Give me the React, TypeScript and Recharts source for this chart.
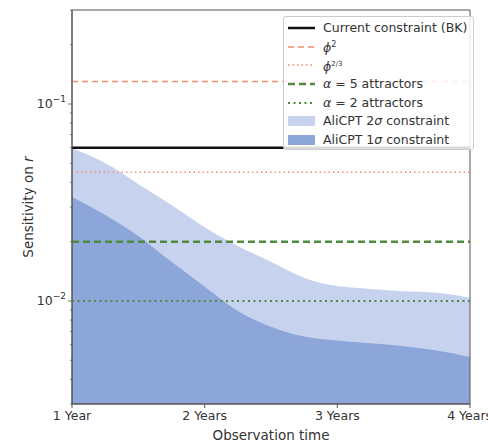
import { Area, ComposedChart, Label, ReferenceArea, ReferenceLine, XAxis, YAxis } from "recharts";

// observation time in years
const years = [1, 1.25, 1.5, 1.75, 2, 2.25, 2.5, 2.75, 3, 3.25, 3.5, 3.75, 4];
// AliCPT upper limits on r
const sigma2 = [0.0598, 0.0502, 0.0393, 0.0307, 0.0237, 0.019, 0.0158, 0.0131, 0.0119, 0.0115, 0.0112, 0.011, 0.0104];
const sigma1 = [0.0337, 0.0273, 0.0214, 0.0158, 0.0118, 0.0089, 0.0074, 0.0066, 0.0063, 0.0061, 0.0059, 0.0056, 0.0052];

const bkLimit = 0.06;
const phi2 = 0.13;
const phi23 = 0.045;
const alpha5 = 0.02;
const alpha2 = 0.01;

const xTicks = [1, 2, 3, 4];
const xTickLabels = ["1 Year", "2 Years", "3 Years", "4 Years"];
const majorTicks = [0.01, 0.1];
const majorExp = ["−2", "−1"];
const yTicks = [
  0.003, 0.004, 0.005, 0.006, 0.007, 0.008, 0.009, 0.01,
  0.02, 0.03, 0.04, 0.05, 0.06, 0.07, 0.08, 0.09, 0.1, 0.2, 0.3,
];

const data = years.map((t, i) => ({ t, s2: sigma2[i], s1: sigma1[i] }));

const FONT = "DejaVu Sans";
const TEXT = "#333";
const AXIS = "#555";
const LIGHT = "#c7d2ee";
const DARK = "#8ca6da";
const ORANGE = "#ef8d6c";
const GREEN = "#4f8a3e";

function YTick({ x, y, payload }: any) {
  const idx = majorTicks.findIndex((m) => Math.abs(m - payload.value) < 1e-9);
  const major = idx >= 0;
  return (
    <g>
      <line x1={x - (major ? 4 : 2)} x2={x} y1={y} y2={y} stroke={AXIS} strokeWidth={0.8} />
      {major && (
        <text x={x - 6} y={y + 4} textAnchor="end" fontSize={12.5} fill={TEXT} fontFamily={FONT}>
          10<tspan dy={-6} fontSize={9}>{majorExp[idx]}</tspan>
        </text>
      )}
    </g>
  );
}

const legendItems = [
  { label: <>Current constraint (BK)</>, kind: "line", color: "#111", dash: "", w: 2.5 },
  { label: <><i>ϕ</i><sup style={{ fontSize: 8 }}>2</sup></>, kind: "line", color: ORANGE, dash: "6 4", w: 1.5 },
  { label: <><i>ϕ</i><sup style={{ fontSize: 7 }}>2/3</sup></>, kind: "line", color: ORANGE, dash: "1.5 3", w: 1.5 },
  { label: <><i>α</i> = 5 attractors</>, kind: "line", color: GREEN, dash: "7 4", w: 2.5 },
  { label: <><i>α</i> = 2 attractors</>, kind: "line", color: GREEN, dash: "2 3.5", w: 2 },
  { label: <>AliCPT 2<i>σ</i> constraint</>, kind: "patch", color: LIGHT, dash: "", w: 0 },
  { label: <>AliCPT 1<i>σ</i> constraint</>, kind: "patch", color: DARK, dash: "", w: 0 },
];

function LegendBox() {
  return (
    <div
      style={{
        position: "absolute",
        left: 283,
        top: 16,
        background: "rgba(255,255,255,0.85)",
        border: "1px solid #ccc",
        borderRadius: 3,
        padding: "2px 6px 0 4px",
        fontFamily: FONT,
        fontSize: 12.5,
        color: TEXT,
      }}
    >
      {legendItems.map((it, i) => (
        <div key={i} style={{ display: "flex", alignItems: "center", height: 18.6 }}>
          <svg width={28} height={12} style={{ marginRight: 7, flex: "none" }}>
            {it.kind === "line" ? (
              <line x1={0} x2={27} y1={6} y2={6} stroke={it.color} strokeWidth={it.w} strokeDasharray={it.dash} />
            ) : (
              <rect x={0} y={1} width={27} height={10} fill={it.color} />
            )}
          </svg>
          <span style={{ whiteSpace: "nowrap", lineHeight: "14px" }}>{it.label}</span>
        </div>
      ))}
    </div>
  );
}

export default function App() {
  return (
    <div style={{ position: "absolute", left: 0, top: 0, width: 488, height: 442, background: "#fff" }}>
      <ComposedChart width={488} height={442} data={data} margin={{ top: 10, right: 18, left: 0, bottom: 0 }}>
        <XAxis
          dataKey="t"
          type="number"
          domain={[1, 4]}
          ticks={xTicks}
          tickFormatter={(v: number) => xTickLabels[xTicks.indexOf(v)]}
          height={38}
          tickSize={4}
          tickMargin={3}
          stroke={AXIS}
          tick={{ fill: TEXT, fontSize: 12.5, fontFamily: FONT }}
        >
          <Label value="Observation time" position="insideBottom" offset={2} fill={TEXT} fontSize={13.5} fontFamily={FONT} />
        </XAxis>
        <YAxis
          type="number"
          scale="log"
          domain={[0.003, 0.3]}
          allowDataOverflow
          ticks={yTicks}
          interval={0}
          width={72}
          tickSize={0}
          tickMargin={0}
          tickLine={false}
          stroke={AXIS}
          tick={<YTick />}
        >
          <Label
            content={() => (
              <text
                x={28}
                y={207}
                textAnchor="middle"
                transform="rotate(-90 28 207)"
                dominantBaseline="central"
                fontSize={13.5}
                fill={TEXT}
                fontFamily={FONT}
              >
                Sensitivity on <tspan fontStyle="italic">r</tspan>
              </text>
            )}
          />
        </YAxis>
        <Area dataKey="s2" type="monotone" baseValue="dataMin" fill={LIGHT} fillOpacity={1} stroke="none" isAnimationActive={false} />
        <Area dataKey="s1" type="monotone" baseValue="dataMin" fill={DARK} fillOpacity={1} stroke="none" isAnimationActive={false} />
        <ReferenceLine y={phi2} stroke={ORANGE} strokeWidth={1.5} strokeDasharray="6 4" />
        <ReferenceLine y={phi23} stroke={ORANGE} strokeWidth={1.5} strokeDasharray="1.5 3" />
        <ReferenceLine y={alpha5} stroke={GREEN} strokeWidth={2.5} strokeDasharray="7 4" />
        <ReferenceLine y={alpha2} stroke={GREEN} strokeWidth={2} strokeDasharray="2 3.5" />
        <ReferenceLine y={bkLimit} stroke="#111" strokeWidth={2.5} />
        <ReferenceArea x1={1} x2={4} y1={0.003} y2={0.3} fill="none" stroke={AXIS} strokeWidth={1} />
      </ComposedChart>
      <LegendBox />
    </div>
  );
}
